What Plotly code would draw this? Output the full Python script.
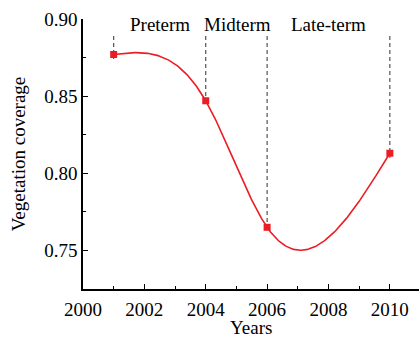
import numpy as np
import plotly.graph_objects as go

# Mean vegetation coverage at the sampled years
years = [2001, 2004, 2006, 2010]
coverage = [0.877, 0.847, 0.765, 0.813]

# Period labels and their horizontal positions
period_labels = ["Preterm", "Midterm", "Late-term"]
period_x = [2002.5, 2005.02, 2008.0]

x_ticks = [2000, 2002, 2004, 2006, 2008, 2010]
y_ticks = [0.75, 0.80, 0.85, 0.90]

RED = "#ec1c24"
FONT = "Liberation Serif"
FS = 19


def natural_cubic_spline(xs, ys, n=300):
    """Smooth curve through the points (natural cubic spline)."""
    xs = np.asarray(xs, float)
    ys = np.asarray(ys, float)
    k = len(xs)
    h = np.diff(xs)
    A = np.zeros((k, k))
    b = np.zeros(k)
    A[0, 0] = A[-1, -1] = 1.0
    for i in range(1, k - 1):
        A[i, i - 1] = h[i - 1]
        A[i, i] = 2 * (h[i - 1] + h[i])
        A[i, i + 1] = h[i]
        b[i] = 6 * ((ys[i + 1] - ys[i]) / h[i] - (ys[i] - ys[i - 1]) / h[i - 1])
    M = np.linalg.solve(A, b)
    xx = np.linspace(xs[0], xs[-1], n)
    idx = np.clip(np.searchsorted(xs, xx) - 1, 0, k - 2)
    x0, x1 = xs[idx], xs[idx + 1]
    y0, y1 = ys[idx], ys[idx + 1]
    m0, m1 = M[idx], M[idx + 1]
    hh = x1 - x0
    yy = (m0 * (x1 - xx) ** 3 / (6 * hh) + m1 * (xx - x0) ** 3 / (6 * hh)
          + (y0 / hh - m0 * hh / 6) * (x1 - xx) + (y1 / hh - m1 * hh / 6) * (xx - x0))
    return xx, yy


fig = go.Figure()

# Dashed guide lines from the top of the plot down to each sample
guide_top = 0.889
for x, y in zip(years, coverage):
    fig.add_trace(go.Scatter(
        x=[x, x], y=[guide_top, y - 0.003], mode="lines",
        line=dict(color="#444444", width=1.1, dash="4px,3px"),
        hoverinfo="skip", showlegend=False))

sx, sy = natural_cubic_spline(years, coverage)
fig.add_trace(go.Scatter(x=sx, y=sy, mode="lines",
                         line=dict(color=RED, width=1.6),
                         hoverinfo="skip", showlegend=False))
fig.add_trace(go.Scatter(x=years, y=coverage, mode="markers",
                         marker=dict(symbol="square", size=7, color=RED),
                         showlegend=False))

for label, x in zip(period_labels, period_x):
    fig.add_annotation(x=x, y=0.8967, text=label, showarrow=False,
                       xanchor="center", yanchor="middle",
                       font=dict(family=FONT, size=FS, color="black"))

# x-axis title placed below the tick labels
fig.add_annotation(x=0.5, y=-0.143, xref="paper", yref="paper", text="Years",
                   showarrow=False, xanchor="center", yanchor="middle", borderpad=0,
                   font=dict(family=FONT, size=FS, color="black"))

fig.update_layout(
    width=419, height=340,
    margin=dict(l=83, r=0, t=19, b=51),
    plot_bgcolor="white", paper_bgcolor="white",
    font=dict(family=FONT, size=FS, color="black"),
)
fig.update_xaxes(
    range=[2000, 2010.95], tickvals=x_ticks, ticks="inside", ticklen=5,
    tickwidth=1.3, tickcolor="black", ticklabelstandoff=2, automargin=False,
    minor=dict(dtick=1, ticks="inside", ticklen=3, tickcolor="black", tickwidth=1.2),
    showline=True, linecolor="black", linewidth=1.5, showgrid=False, zeroline=False,
    tickfont=dict(family=FONT, size=FS),
)
fig.update_yaxes(
    range=[0.725, 0.90], tickvals=y_ticks, tickformat=".2f", ticks="inside",
    ticklen=5, tickwidth=1.3, tickcolor="black", automargin=False,
    minor=dict(dtick=0.025, tick0=0.75, ticks="inside", ticklen=3, tickcolor="black", tickwidth=1.2),
    showline=True, linecolor="black", linewidth=1.5, showgrid=False, zeroline=False,
    title=dict(text="Vegetation coverage", standoff=14, font=dict(family=FONT, size=FS)),
    tickfont=dict(family=FONT, size=FS),
)

fig.write_html("out.html")
